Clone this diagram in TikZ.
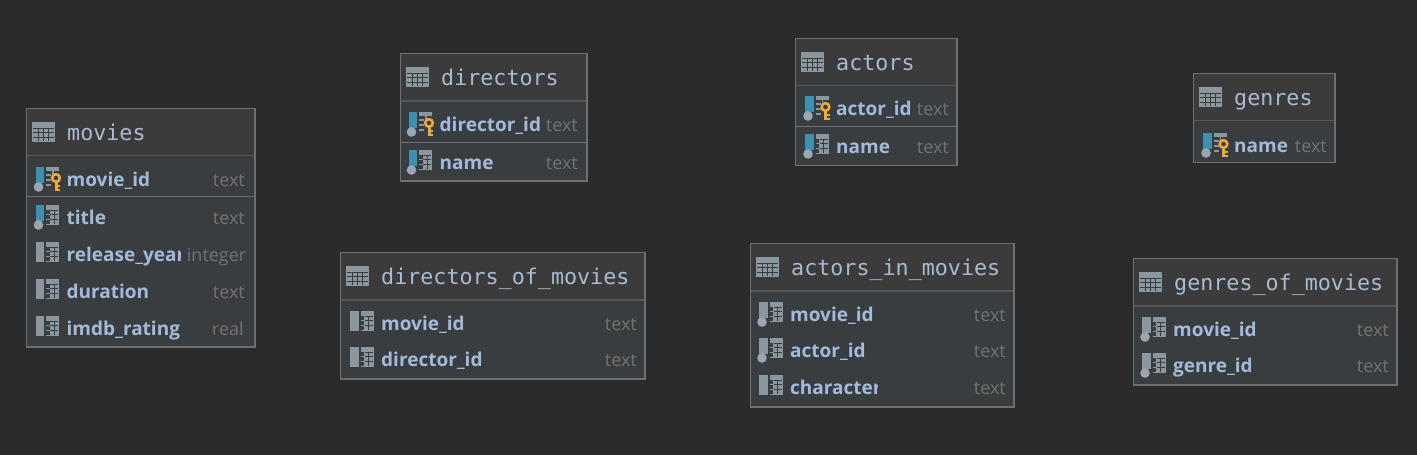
\documentclass[tikz,border=0pt]{standalone}
\usepackage{fontspec}
\setmainfont{Open Sans}
\newfontfamily\titlefont{DejaVu Sans Mono}
\definecolor{bgc}{HTML}{2B2B2B}
\definecolor{headc}{HTML}{3C3B3B}
\definecolor{bodyc}{HTML}{3A3D40}
\definecolor{borderc}{HTML}{6E6F70}
\definecolor{sepc}{HTML}{555657}
\definecolor{titlec}{HTML}{A9BBD0}
\definecolor{namec}{HTML}{A3BBDA}
\definecolor{typec}{HTML}{727272}
\definecolor{iconc}{HTML}{8B979E}
\definecolor{bluec}{HTML}{3E8FB0}
\definecolor{dotc}{HTML}{9AA7B0}
\definecolor{keyc}{HTML}{EDA93C}
\tikzset{
  x=1pt,y=-1pt,
  tablehead/.style={fill=headc},
  headsep/.style={draw=sepc,line width=1.2pt},
  keysep/.style={draw=borderc,line width=1pt},
  tabletitle/.style={anchor=base west,inner sep=0pt,text=titlec,font=\titlefont\fontsize{21.7}{24}\selectfont},
  colname/.style={anchor=base west,inner sep=0pt,text=namec,font=\bfseries\fontsize{19}{24}\selectfont},
  coltype/.style={anchor=base east,inner sep=0pt,text=typec,font=\fontsize{18}{24}\selectfont},
}
% table frame: id, x0, y0, x1, y1, header bottom, title
\newcommand{\dbtable}[7]{%
  \fill[bodyc] (#2,#3) rectangle (#4,#5);
  \fill[tablehead] (#2,#3) rectangle (#4,#6);
  \draw[headsep] (#2,#6) -- (#4,#6);
  \draw[draw=borderc,line width=1.2pt] (#2,#3) rectangle (#4,#5);
  \pgfmathsetmacro{\ix}{#2+5.5}
  \pgfmathsetmacro{\iy}{(#3+#6)/2-10}
  \begin{scope}[shift={(\ix,\iy)}]
    \fill[iconc] (0,0) rectangle (23,20);
    \draw[headc,line width=0.55pt] (1,6)--(22,6) (1,10.5)--(22,10.5) (1,15)--(22,15) (6.5,6)--(6.5,19) (11.5,6)--(11.5,19) (16.5,6)--(16.5,19);
  \end{scope}
  \pgfmathsetmacro{\tx}{#2+40.5}
  \pgfmathsetmacro{\ty}{(#3+#6)/2+8}
  \node[tabletitle] (#1) at (\tx,\ty) {#7};
}
% column glyph parts
\newcommand{\gridicon}{%
  \fill[iconc] (10,-12) rectangle (23,8);
  \fill[bodyc] (10,-7) rectangle (13.5,8);
  \draw[iconc,line width=0.8pt] (10,-3)--(13.5,-3) (10,2)--(13.5,2) (10,7.6)--(13.5,7.6);
  \draw[bodyc,line width=0.55pt] (14,-7)--(22,-7) (14,-2.5)--(22,-2.5) (14,2.5)--(22,2.5) (18,-7)--(18,7);
}
\newcommand{\pkicon}{%
  \fill[iconc] (10,-12) rectangle (23,-8);
  \draw[iconc,line width=1.2pt] (10,-4)--(15,-4) (10,1)--(15,1) (10,6)--(15,6) (17,-8)--(17,-5);
  \draw[keyc,line width=2.6pt] (20,-1) circle (3.8);
  \fill[keyc] (18.5,2) rectangle (21.5,12);
  \fill[keyc] (21.5,6) rectangle (24,8.2);
  \fill[keyc] (21.5,9.6) rectangle (24,11.6);
}
% row: id, x0, x1, centre y, kind (1 pk, 2 fk, 3 ref, 4 plain), name, type, clip x
\newcommand{\dbrow}[8]{%
  \pgfmathsetmacro{\ix}{#2+10}
  \begin{scope}[shift={(\ix,#4)}]
    \ifnum#5=1 \fill[bluec] (-0.5,-12) rectangle (8,4); \fill[dotc] (2.5,8) circle (4.8); \pkicon\fi
    \ifnum#5=2 \fill[bluec] (-0.5,-12) rectangle (8,4); \fill[dotc] (2.5,8) circle (4.8); \gridicon\fi
    \ifnum#5=3 \fill[iconc] (-0.5,-12) rectangle (8,4); \fill[dotc] (2.5,8) circle (4.8); \gridicon\fi
    \ifnum#5=4 \fill[iconc] (-0.5,-12) rectangle (8,8); \gridicon\fi
  \end{scope}
  \pgfmathsetmacro{\nx}{#2+40.5}
  \pgfmathsetmacro{\by}{#4+7}
  \pgfmathsetmacro{\tx}{#3-8}
  \begin{scope}
    \clip (\nx,#4-16) rectangle (#8,#4+16);
    \node[colname] (#1n) at (\nx,\by) {#6};
  \end{scope}
  \node[coltype] (#1t) at (\tx,\by) {#7};
}
\begin{document}
\begin{tikzpicture}
\useasboundingbox (0,0) rectangle (1417,455);
\fill[bgc] (0,0) rectangle (1417,455);
% movies
\dbtable{movies}{26.5}{108.5}{255}{347}{155.5}{movies}
\draw[keysep] (26.5,196.5) -- (255,196.5);
\dbrow{m1}{26}{253}{179}{1}{movie\_id}{text}{255}
\dbrow{m2}{26}{253}{217}{2}{title}{text}{255}
\dbrow{m3}{26}{254.5}{254}{4}{release\_year}{integer}{180}
\dbrow{m4}{26}{253}{291}{4}{duration}{text}{255}
\dbrow{m5}{26}{252}{328}{4}{imdb\_rating}{real}{255}
% directors
\dbtable{directors}{400.5}{53.5}{587}{181}{101}{directors}
\draw[keysep] (400.5,142.5) -- (587,142.5);
\dbrow{d1}{399}{586}{124}{1}{director\_id}{text}{587}
\dbrow{d2}{399}{586}{162}{2}{name}{text}{587}
% actors
\dbtable{actors}{795.5}{38.5}{957}{165.5}{85.5}{actors}
\draw[keysep] (795.5,126) -- (957,126);
\dbrow{a1}{795.5}{957}{108}{1}{actor\_id}{text}{957}
\dbrow{a2}{795.5}{957}{146}{2}{name}{text}{957}
% genres
\dbtable{genres}{1193.5}{73.5}{1335}{162.5}{120.5}{genres}
\dbrow{g1}{1193.5}{1335}{145}{1}{name}{text}{1335}
% directors_of_movies
\dbtable{dom}{340.5}{252.5}{645}{379}{300}{directors\_of\_movies}
\dbrow{dm1}{340.5}{645}{323}{4}{movie\_id}{text}{645}
\dbrow{dm2}{340.5}{645}{359}{4}{director\_id}{text}{645}
% actors_in_movies
\dbtable{aim}{750.5}{243.5}{1014}{407}{291}{actors\_in\_movies}
\dbrow{am1}{749.5}{1014}{314}{3}{movie\_id}{text}{1014}
\dbrow{am2}{749.5}{1014}{350}{3}{actor\_id}{text}{1014}
\dbrow{am3}{749.5}{1014}{387}{4}{character}{text}{877}
% genres_of_movies
\dbtable{gom}{1133.5}{258.5}{1397}{385}{306}{genres\_of\_movies}
\dbrow{gm1}{1132.5}{1397}{329}{3}{movie\_id}{text}{1397}
\dbrow{gm2}{1132.5}{1397}{365}{3}{genre\_id}{text}{1397}
\end{tikzpicture}
\end{document}
